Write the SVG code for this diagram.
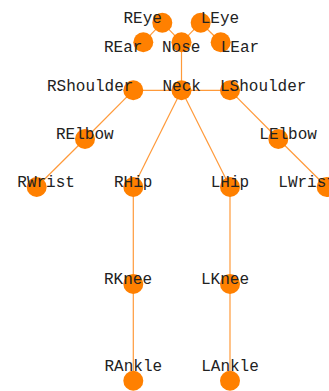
<svg xmlns="http://www.w3.org/2000/svg" width="329" height="391" viewBox="0 0 329 391">
<style>
.e{stroke:#ff9a3a;stroke-width:1.2;fill:none}
.n circle{fill:#ff8000}
.n text{font-family:"Liberation Mono",monospace;font-size:16px;fill:#222}
</style>
<rect width="329" height="391" fill="#fff"/>
<g id="connectors" class="e">
<line x1="162.3" y1="22.7" x2="143.3" y2="42.3"/>
<line x1="162.3" y1="22.7" x2="181.5" y2="42.3"/>
<line x1="200.7" y1="22.7" x2="181.5" y2="42.3"/>
<line x1="200.7" y1="22.7" x2="220.7" y2="42.3"/>
<line x1="181.5" y1="42.3" x2="181.5" y2="90.3"/>
<line x1="181.5" y1="90.3" x2="133.3" y2="90.3"/>
<line x1="181.5" y1="90.3" x2="230" y2="90.3"/>
<line x1="133.3" y1="90.3" x2="85" y2="139"/>
<line x1="85" y1="139" x2="36.7" y2="187"/>
<line x1="230" y1="90.3" x2="278.3" y2="139"/>
<line x1="278.3" y1="139" x2="326.7" y2="187"/>
<line x1="181.5" y1="90.3" x2="133.3" y2="187"/>
<line x1="181.5" y1="90.3" x2="230" y2="187"/>
<line x1="133.3" y1="187" x2="133.3" y2="284"/>
<line x1="133.3" y1="284" x2="133.3" y2="380.7"/>
<line x1="230" y1="187" x2="230" y2="284"/>
<line x1="230" y1="284" x2="230" y2="380.7"/>
</g>
<g id="REye" class="n"><circle cx="162.3" cy="22.7" r="10"/><text x="123.5" y="22.5">REye</text></g>
<g id="LEye" class="n"><circle cx="200.7" cy="22.7" r="10"/><text x="200.7" y="22.5">LEye</text></g>
<g id="REar" class="n"><circle cx="143.3" cy="42.3" r="10"/><text x="104" y="52">REar</text></g>
<g id="Nose" class="n"><circle cx="181.5" cy="42.3" r="10"/><text x="162" y="52">Nose</text></g>
<g id="LEar" class="n"><circle cx="220.7" cy="42.3" r="10"/><text x="220.7" y="52">LEar</text></g>
<g id="RShoulder" class="n"><circle cx="133.3" cy="90.3" r="10"/><text x="47" y="90.5">RShoulder</text></g>
<g id="Neck" class="n"><circle cx="181.5" cy="90.3" r="10"/><text x="162.5" y="90.5">Neck</text></g>
<g id="LShoulder" class="n"><circle cx="230" cy="90.3" r="10"/><text x="220" y="90.5">LShoulder</text></g>
<g id="RElbow" class="n"><circle cx="85" cy="139" r="10"/><text x="56" y="139">RElbow</text></g>
<g id="LElbow" class="n"><circle cx="278.3" cy="139" r="10"/><text x="259.3" y="139">LElbow</text></g>
<g id="RWrist" class="n"><circle cx="36.7" cy="187" r="10"/><text x="17.3" y="187">RWrist</text></g>
<g id="RHip" class="n"><circle cx="133.3" cy="187" r="10"/><text x="114" y="187">RHip</text></g>
<g id="LHip" class="n"><circle cx="230" cy="187" r="10"/><text x="210.7" y="187">LHip</text></g>
<g id="LWrist" class="n"><circle cx="326.7" cy="187" r="10"/><text x="278.3" y="187">LWrist</text></g>
<g id="RKnee" class="n"><circle cx="133.3" cy="284" r="10"/><text x="104" y="284">RKnee</text></g>
<g id="LKnee" class="n"><circle cx="230" cy="284" r="10"/><text x="201" y="284">LKnee</text></g>
<g id="RAnkle" class="n"><circle cx="133.3" cy="380.7" r="10"/><text x="104.5" y="371">RAnkle</text></g>
<g id="LAnkle" class="n"><circle cx="230" cy="380.7" r="10"/><text x="201.2" y="371">LAnkle</text></g>
</svg>
